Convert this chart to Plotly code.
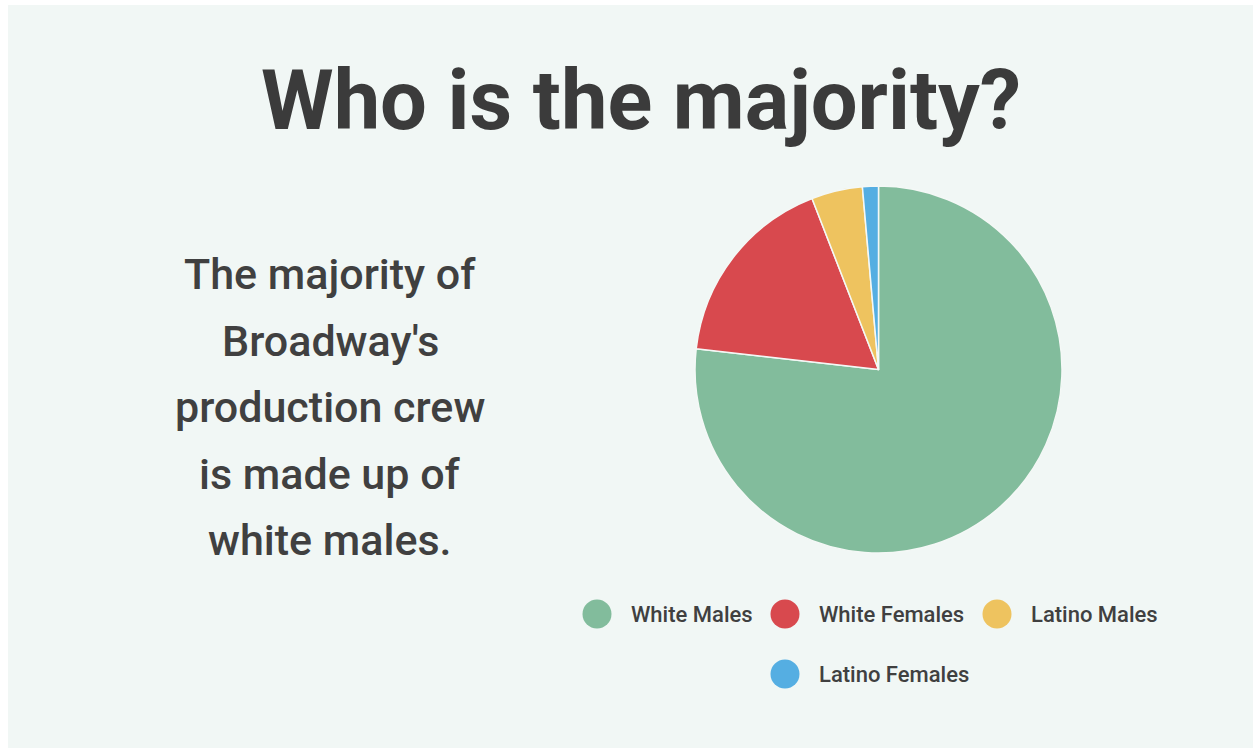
import plotly.graph_objects as go

# ---- data ----
categories = ["White Males", "White Females", "Latino Males", "Latino Females"]
shares = [76.8, 17.3, 4.5, 1.4]
colors = ["#82bc9c", "#d8494e", "#eec35f", "#55aee2"]

title_text = "Who is the majority?"
side_lines = ["The majority of", "Broadway's", "production crew", "is made up of", "white males."]

W, H = 1255, 750
FONT = "Roboto"
TXT = "#404040"

fig = go.Figure()

# pie
cx, cy, r = 878.5, 369.5, 183.5
fig.add_trace(go.Pie(
    labels=categories, values=shares, sort=False, direction="clockwise", rotation=0,
    marker=dict(colors=colors, line=dict(color="#f4f8f6", width=1.5)),
    textinfo="none", hoverinfo="label+percent", showlegend=False,
    domain=dict(x=[(cx - r) / W, (cx + r) / W], y=[(H - (cy + r)) / H, (H - (cy - r)) / H]),
))

# custom legend (layout positions)
leg_pos = [(597, 614), (785, 614), (997, 614), (785, 674)]
fig.add_trace(go.Scatter(
    x=[p[0] for p in leg_pos], y=[p[1] for p in leg_pos], mode="markers",
    marker=dict(size=29, color=colors, line=dict(width=0)),
    hoverinfo="skip", showlegend=False, xaxis="x", yaxis="y",
))
annotations = []
for (lx, ly), lab in zip(leg_pos, categories):
    annotations.append(dict(x=lx + 32, y=ly, xref="x", yref="y", text=lab, showarrow=False,
                            xanchor="left", yanchor="middle",
                            font=dict(family=FONT, size=22, color=TXT, weight=500)))

# title
annotations.append(dict(x=641, y=100, xref="x", yref="y", text="<b>" + title_text + "</b>",
                        showarrow=False, xanchor="center", yanchor="middle",
                        font=dict(family=FONT, size=83, color="#3b3b3b")))
# side text
for i, line in enumerate(side_lines):
    annotations.append(dict(x=330, y=274 + i * 66.5, xref="x", yref="y", text=line,
                            showarrow=False, xanchor="center", yanchor="middle",
                            font=dict(family=FONT, size=43, color=TXT, weight=500)))

fig.update_layout(
    width=W, height=H, margin=dict(l=0, r=0, t=0, b=0),
    paper_bgcolor="white", plot_bgcolor="rgba(0,0,0,0)",
    xaxis=dict(range=[0, W], visible=False, domain=[0, 1], fixedrange=True),
    yaxis=dict(range=[H, 0], visible=False, domain=[0, 1], fixedrange=True),
    shapes=[dict(type="rect", xref="paper", yref="paper", x0=8 / W, x1=1253 / W,
                 y0=2 / H, y1=745 / H, fillcolor="#f1f7f5", line=dict(width=0), layer="below")],
    annotations=annotations,
)

fig.write_html("out.html")
